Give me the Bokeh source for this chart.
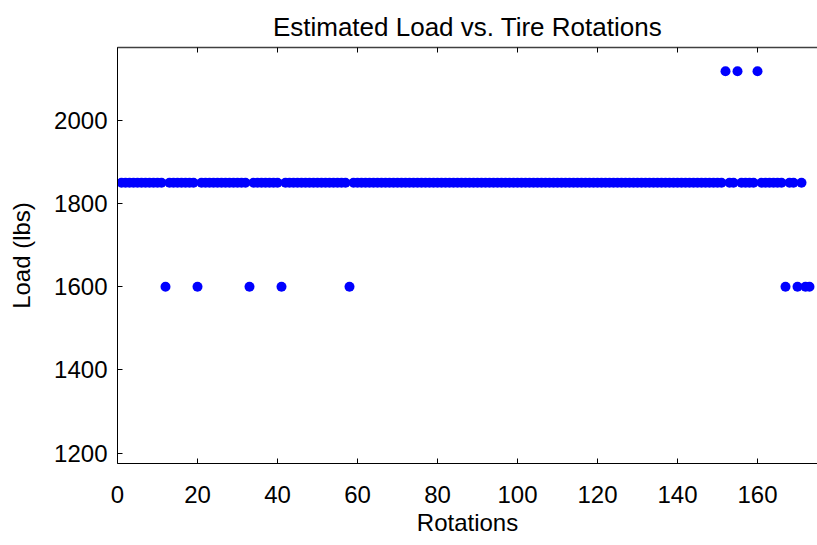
from bokeh.plotting import figure
from bokeh.models import LinearAxis, FixedTicker, Range1d
from bokeh.embed import file_html
from bokeh.resources import INLINE

title = "Estimated Load vs. Tire Rotations"
x_label = "Rotations"
y_label = "Load (lbs)"
x_ticks = [0, 20, 40, 60, 80, 100, 120, 140, 160]
y_ticks = [1200, 1400, 1600, 1800, 2000]

rotations = list(range(1, 174))
loads = [
    1850, 1850, 1850, 1850, 1850, 1850, 1850, 1850, 1850, 1850,
    1850, 1600, 1850, 1850, 1850, 1850, 1850, 1850, 1850, 1600,
    1850, 1850, 1850, 1850, 1850, 1850, 1850, 1850, 1850, 1850,
    1850, 1850, 1600, 1850, 1850, 1850, 1850, 1850, 1850, 1850,
    1600, 1850, 1850, 1850, 1850, 1850, 1850, 1850, 1850, 1850,
    1850, 1850, 1850, 1850, 1850, 1850, 1850, 1600, 1850, 1850,
    1850, 1850, 1850, 1850, 1850, 1850, 1850, 1850, 1850, 1850,
    1850, 1850, 1850, 1850, 1850, 1850, 1850, 1850, 1850, 1850,
    1850, 1850, 1850, 1850, 1850, 1850, 1850, 1850, 1850, 1850,
    1850, 1850, 1850, 1850, 1850, 1850, 1850, 1850, 1850, 1850,
    1850, 1850, 1850, 1850, 1850, 1850, 1850, 1850, 1850, 1850,
    1850, 1850, 1850, 1850, 1850, 1850, 1850, 1850, 1850, 1850,
    1850, 1850, 1850, 1850, 1850, 1850, 1850, 1850, 1850, 1850,
    1850, 1850, 1850, 1850, 1850, 1850, 1850, 1850, 1850, 1850,
    1850, 1850, 1850, 1850, 1850, 1850, 1850, 1850, 1850, 1850,
    1850, 2118, 1850, 1850, 2118, 1850, 1850, 1850, 1850, 2118,
    1850, 1850, 1850, 1850, 1850, 1850, 1600, 1850, 1850, 1600,
    1850, 1600, 1600,
]

FONT = "Liberation Sans"

p = figure(width=817, height=545, output_backend="svg", toolbar_location=None,
           x_range=Range1d(0, 175), y_range=Range1d(1175, 2175),
           min_border_left=117, min_border_right=0, min_border_top=47,
           min_border_bottom=82, background_fill_color="white",
           border_fill_color="white", outline_line_color=None)

p.title.text = title
p.title.align = "center"
p.title.text_font = FONT
p.title.text_font_size = "26px"
p.title.text_font_style = "normal"
p.title.text_color = "black"
p.title.offset = 0
p.title.standoff = 11

p.xgrid.visible = False
p.ygrid.visible = False

for ax in (p.xaxis[0], p.yaxis[0]):
    ax.major_tick_in = 5
    ax.major_tick_out = 0
    ax.minor_tick_line_color = None
    ax.axis_line_color = "black"
    ax.major_tick_line_color = "black"
    ax.major_label_text_font = FONT
    ax.major_label_text_font_size = "24px"
    ax.major_label_text_color = "black"
    ax.axis_label_text_font = FONT
    ax.axis_label_text_font_size = "24px"
    ax.axis_label_text_font_style = "normal"
    ax.axis_label_text_color = "black"

p.xaxis[0].ticker = FixedTicker(ticks=x_ticks)
p.yaxis[0].ticker = FixedTicker(ticks=y_ticks)
p.xaxis[0].axis_label = x_label
p.yaxis[0].axis_label = y_label
p.xaxis[0].major_label_standoff = 22
p.xaxis[0].axis_label_standoff = 3
p.yaxis[0].major_label_standoff = 10
p.yaxis[0].axis_label_standoff = 16

top = LinearAxis(ticker=FixedTicker(ticks=x_ticks))
top.major_tick_in = 5
top.major_tick_out = 0
top.minor_tick_line_color = None
top.axis_line_color = "#404040"
top.axis_line_width = 1.5
top.major_tick_line_color = "black"
top.major_label_text_color = None
top.major_label_text_font_size = "1px"
top.major_label_standoff = 0
p.add_layout(top, "above")

p.scatter(rotations, loads, size=10, color="#0000ff", line_color=None)

open("out.html", "w").write(file_html(p, INLINE))
